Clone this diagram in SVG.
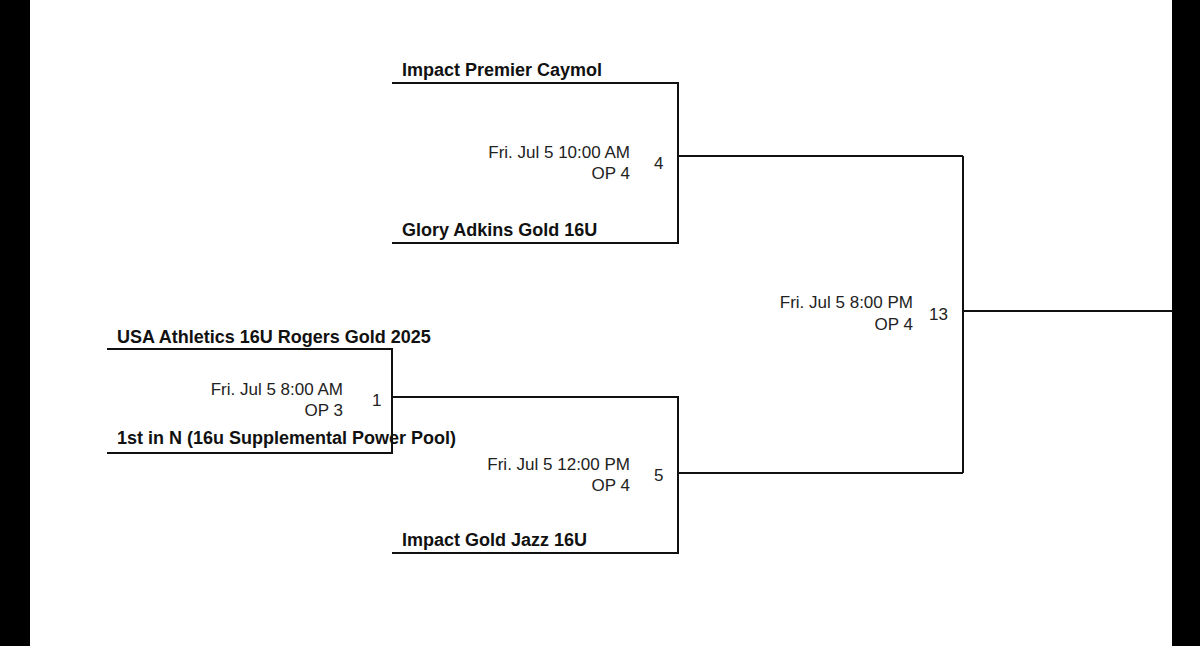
<svg xmlns="http://www.w3.org/2000/svg" width="1200" height="646" viewBox="0 0 1200 646">
<style>
.c{fill:none;stroke:#111;stroke-width:2}
.t{font-family:"Liberation Sans",Arial,sans-serif;font-weight:bold;font-size:18px;fill:#111}
.m{font-family:"Liberation Sans",Arial,sans-serif;font-size:17px;fill:#222;text-anchor:end}
.n{font-family:"Liberation Sans",Arial,sans-serif;font-size:17px;fill:#222}
</style>
<rect width="1200" height="646" fill="#fff"/>
<rect x="0" y="0" width="30" height="646" fill="#000"/>
<rect x="1172" y="0" width="28" height="646" fill="#000"/>
<g id="connectors">
<path class="c" d="M392 83H678V243H392"/>
<path class="c" d="M678 156H963"/>
<path class="c" d="M107 349H392V453H107"/>
<path class="c" d="M392 397H678V553H392"/>
<path class="c" d="M678 473H963"/>
<path class="c" d="M963 156V473"/>
<path class="c" d="M963 311H1172"/>
</g>
<g id="match4">
<text class="t" x="402" y="76">Impact Premier Caymol</text>
<text class="t" x="402" y="236">Glory Adkins Gold 16U</text>
<text class="m" x="630" y="158">Fri. Jul 5 10:00 AM</text>
<text class="m" x="630" y="179">OP 4</text>
<text class="n" x="654" y="169">4</text>
</g>
<g id="match1">
<text class="t" x="117" y="343">USA Athletics 16U Rogers Gold 2025</text>
<text class="t" x="117" y="444">1st in N (16u Supplemental Power Pool)</text>
<text class="m" x="343" y="395">Fri. Jul 5 8:00 AM</text>
<text class="m" x="343" y="416">OP 3</text>
<text class="n" x="372" y="406">1</text>
</g>
<g id="match5">
<text class="t" x="402" y="546">Impact Gold Jazz 16U</text>
<text class="m" x="630" y="470">Fri. Jul 5 12:00 PM</text>
<text class="m" x="630" y="491">OP 4</text>
<text class="n" x="654" y="481">5</text>
</g>
<g id="match13">
<text class="m" x="913" y="308">Fri. Jul 5 8:00 PM</text>
<text class="m" x="913" y="330">OP 4</text>
<text class="n" x="929" y="320">13</text>
</g>
</svg>
